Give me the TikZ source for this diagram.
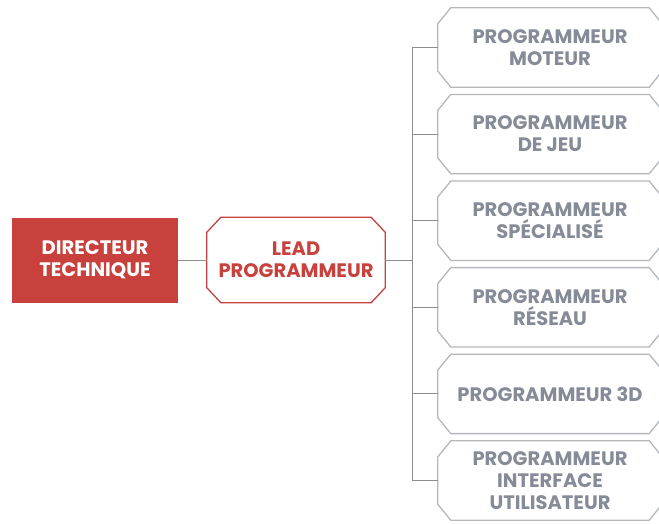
\documentclass[tikz,border=0pt]{standalone}
\usepackage{fontspec}
\setmainfont{Poppins}
\usetikzlibrary{calc}
\definecolor{techred}{HTML}{C8413C}
\definecolor{boxgray}{HTML}{B4B7BC}
\definecolor{txtgray}{HTML}{858B97}
\definecolor{linegray}{HTML}{8E8E8E}
% outline with cut corners around a named node
\newcommand\cutcorners[4]{% style, node, dx, dy
  \draw[#1] ([xshift=#3]#2.north west) -- ([xshift=-#3]#2.north east)
    -- ([yshift=-#4]#2.north east) -- ([yshift=#4]#2.south east)
    -- ([xshift=-#3]#2.south east) -- ([xshift=#3]#2.south west)
    -- ([yshift=#4]#2.south west) -- ([yshift=-#4]#2.north west) -- cycle;}
\begin{document}
\begin{tikzpicture}[x=1pt,y=-1pt,
  txt/.style={font=\fontsize{19.5}{22}\selectfont\bfseries, align=center, inner sep=0pt},
  rolebox/.style={txt, text=txtgray, minimum width=224pt, minimum height=79pt},
  roleline/.style={draw=boxgray, line width=1.3pt},
  leadline/.style={draw=techred, line width=1.3pt},
  link/.style={draw=linegray, line width=1pt}]
\useasboundingbox (0,0) rectangle (659,523);
\clip (0,0) rectangle (659,523);

\node[txt, fill=techred, text=white, minimum width=166pt, minimum height=85pt]
  (dir) at (95,260) {DIRECTEUR\\TECHNIQUE};
\node[txt, text=techred, minimum width=178pt, minimum height=85pt]
  (lead) at (296,260) {LEAD\\PROGRAMMEUR};
\cutcorners{leadline}{lead}{14pt}{15pt}

\node[rolebox] (r1) at (550,47.5)  {PROGRAMMEUR\\MOTEUR};
\node[rolebox] (r2) at (550,134.1) {PROGRAMMEUR\\DE JEU};
\node[rolebox] (r3) at (550,220.7) {PROGRAMMEUR\\SPÉCIALISÉ};
\node[rolebox] (r4) at (550,307.3) {PROGRAMMEUR\\RÉSEAU};
\node[rolebox] (r5) at (550,393.9) {PROGRAMMEUR 3D};
\node[rolebox] (r6) at (550,480.5) {PROGRAMMEUR\\INTERFACE\\UTILISATEUR};
\foreach \r in {r1,r2,r3,r4,r5,r6}{\cutcorners{roleline}{\r}{13pt}{16pt}}

\coordinate (bus) at ($(lead.east)+(27,0)$);
\draw[link] (dir.east) -- (lead.west);
\draw[link] (lead.east) -- (bus);
\draw[link] (bus |- r1.west) -- (bus |- r6.west);
\foreach \r in {r1,r2,r3,r4,r5,r6}{\draw[link] (bus |- \r.west) -- (\r.west);}
\end{tikzpicture}
\end{document}
